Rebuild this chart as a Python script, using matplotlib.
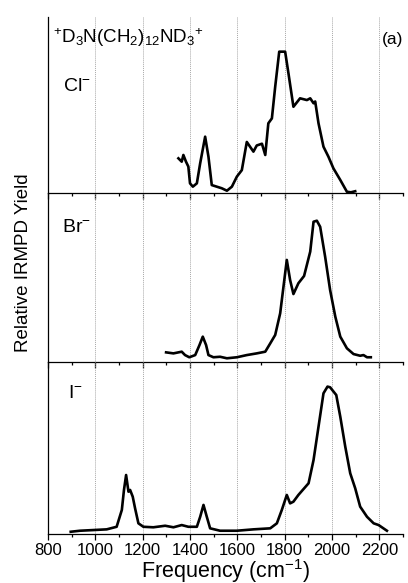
import matplotlib
matplotlib.use('Agg')
import matplotlib.pyplot as plt
import numpy as np

plt.rcParams['font.family'] = ['Liberation Sans', 'DejaVu Sans']
plt.rcParams['mathtext.fontset'] = 'custom'
plt.rcParams['mathtext.rm'] = 'Liberation Sans'
plt.rcParams['mathtext.it'] = 'Liberation Sans:italic'
plt.rcParams['mathtext.default'] = 'regular'

# Cl- spectrum (relative yield, fraction of panel height)
cl_x = [1351, 1365, 1372, 1383, 1393, 1400, 1412, 1429, 1443, 1464, 1478, 1492,
        1513, 1534, 1556, 1577, 1598, 1619, 1640, 1668, 1682, 1704, 1718, 1731,
        1746, 1760, 1777, 1802, 1816, 1837, 1865, 1894, 1908, 1922, 1929, 1943,
        1964, 1985, 2006, 2035, 2063, 2080, 2098]
cl_y = [0.197, 0.178, 0.216, 0.178, 0.150, 0.055, 0.036, 0.055, 0.169, 0.320, 0.206, 0.045,
        0.036, 0.027, 0.013, 0.036, 0.093, 0.130, 0.290, 0.235, 0.270, 0.280, 0.216, 0.396,
        0.424, 0.604, 0.803, 0.803, 0.680, 0.490, 0.538, 0.528, 0.538, 0.510, 0.520, 0.396,
        0.263, 0.206, 0.140, 0.074, 0.007, 0.004, 0.010]

# Br- spectrum
br_x = [1299, 1330, 1365, 1379, 1397, 1422, 1440, 1454, 1468, 1478, 1499, 1527,
        1556, 1598, 1640, 1682, 1718, 1739, 1760, 1781, 1795, 1809, 1823, 1837,
        1858, 1882, 1908, 1922, 1936, 1950, 1971, 1992, 2014, 2035, 2063, 2091,
        2119, 2133, 2148, 2164]
br_y = [0.057, 0.051, 0.061, 0.041, 0.028, 0.041, 0.100, 0.150, 0.100, 0.041, 0.028, 0.031,
        0.022, 0.028, 0.041, 0.051, 0.061, 0.110, 0.160, 0.288, 0.446, 0.604, 0.485, 0.402,
        0.466, 0.509, 0.653, 0.830, 0.836, 0.800, 0.623, 0.426, 0.268, 0.150, 0.081, 0.047,
        0.037, 0.041, 0.028, 0.028]

# I- spectrum
i_x = [896, 935, 992, 1048, 1090, 1112, 1121, 1130, 1140, 1147, 1158, 1168,
       1182, 1203, 1245, 1295, 1330, 1365, 1393, 1429, 1443, 1457, 1471, 1485,
       1527, 1598, 1668, 1739, 1767, 1788, 1809, 1823, 1837, 1858, 1901, 1922,
       1943, 1964, 1981, 1992, 2018, 2035, 2056, 2077, 2098, 2119, 2148, 2176,
       2197, 2232]
i_y = [0.013, 0.019, 0.023, 0.027, 0.042, 0.140, 0.256, 0.343, 0.246, 0.256, 0.217, 0.149,
       0.062, 0.042, 0.039, 0.048, 0.039, 0.052, 0.042, 0.042, 0.100, 0.169, 0.100, 0.033,
       0.019, 0.019, 0.027, 0.033, 0.062, 0.140, 0.227, 0.178, 0.188, 0.227, 0.295, 0.430,
       0.624, 0.818, 0.857, 0.853, 0.808, 0.682, 0.508, 0.353, 0.266, 0.159, 0.100, 0.062,
       0.052, 0.019]

anion_labels = ['Cl$^{-}$', 'Br$^{-}$', 'I$^{-}$']
xticks = [800, 1000, 1200, 1400, 1600, 1800, 2000, 2200]

fig = plt.figure(figsize=(4.08, 5.83), dpi=100)
gs = fig.add_gridspec(3, 1, height_ratios=[176, 169, 172], hspace=0,
                      left=48/408, right=403/408, bottom=49/583, top=566/583)
axes = [fig.add_subplot(gs[i]) for i in range(3)]

series = [(cl_x, cl_y), (br_x, br_y), (i_x, i_y)]
label_pos = [(0.042, 0.605), (0.040, 0.796), (0.056, 0.814)]

for k, ax in enumerate(axes):
    ax.patch.set_visible(False)   # so the panel below doesn't hide the ticks
    sx, sy = series[k]
    for g in xticks[1:]:
        ax.axvline(g, color='#a8a8a8', lw=0.7, ls=(0, (1, 1)), zorder=0)
    ax.plot(sx, sy, color='black', lw=1.9, solid_joinstyle='round')
    ax.set_xlim(800, 2300)
    ax.set_ylim(0, 1)
    ax.set_yticks([])
    ax.spines['top'].set_visible(False)
    ax.spines['right'].set_visible(False)
    ax.spines['left'].set_linewidth(0.9)
    ax.spines['bottom'].set_linewidth(0.9)
    ax.set_xticks(xticks)
    ax.set_xticks(np.arange(900, 2301, 200), minor=True)
    ax.tick_params(axis='x', which='major', direction='out', length=4.5, width=0.9,
                   labelsize=12, pad=2)
    ax.tick_params(axis='x', which='minor', direction='out', length=2.5, width=0.9)
    if k < 2:
        ax.tick_params(axis='x', labelbottom=False)
    ax.text(label_pos[k][0], label_pos[k][1], anion_labels[k], transform=ax.transAxes,
            fontsize=14, va='center', ha='left')

axes[0].text(0.014, 0.88, r'$^{+}$D$_{3}$N(CH$_{2}$)$_{12}$ND$_{3}$$^{+}$',
             transform=axes[0].transAxes, fontsize=13.5, va='center', ha='left')
axes[0].text(1.0, 0.87, '(a)', transform=axes[0].transAxes, fontsize=12.5,
             va='center', ha='right')

axes[2].set_xlabel('Frequency (cm$^{-1}$)', fontsize=15.5, labelpad=-1)
fig.text(0.058, 0.549, 'Relative IRMPD Yield', rotation=90, fontsize=13.5,
         va='center', ha='center')

fig.savefig('out.png', dpi=100)
